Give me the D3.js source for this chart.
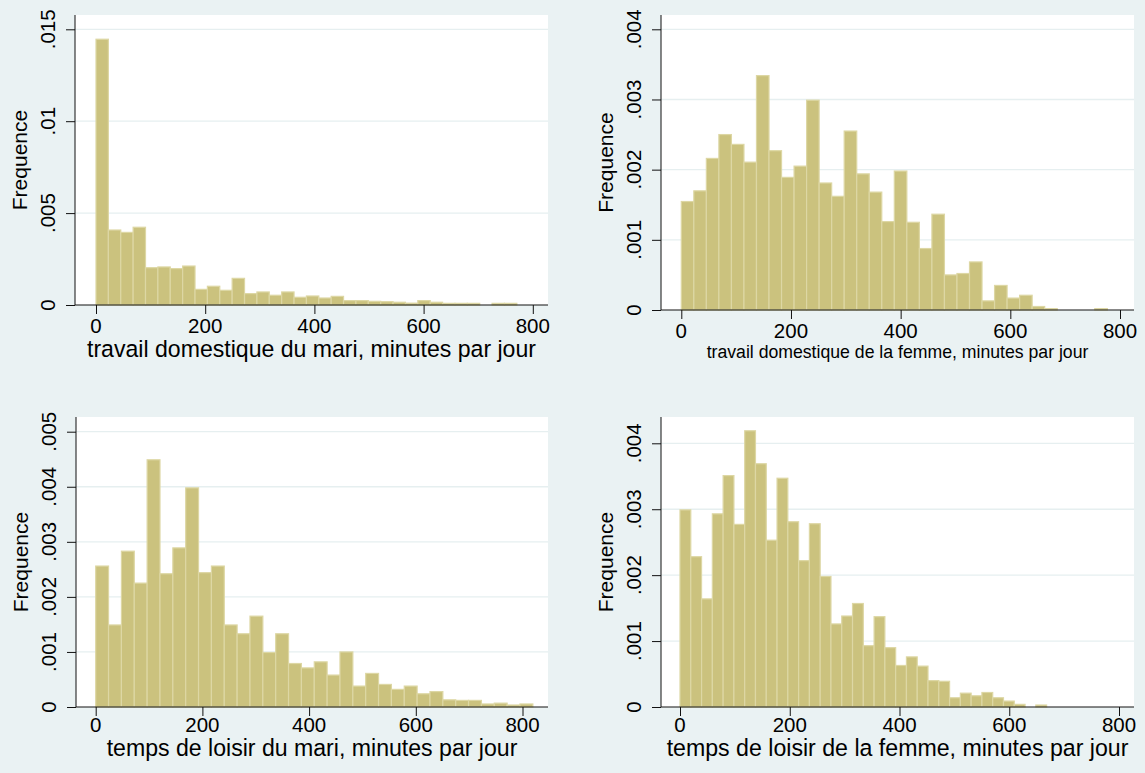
<!DOCTYPE html>
<html>
<head>
<meta charset="utf-8">
<script src="https://cdn.jsdelivr.net/npm/d3@7"></script>
<style>
  body { margin: 0; background: #eaf2f3; }
  svg { display: block; font-family: "Liberation Sans", Arial, sans-serif; }
</style>
</head>
<body>
<svg id="chart" width="1145" height="773"></svg>
<script>
// densities per bin (x 0.001), bins start at 0
let hdMari = [14.46, 4.08, 3.95, 4.23, 2.03, 2.07, 1.98, 2.12, 0.85, 1.02, 0.80, 1.45, 0.62, 0.71, 0.53, 0.71, 0.42, 0.49,
    0.38, 0.47, 0.24, 0.24, 0.20, 0.18, 0.15, 0.10, 0.24, 0.15, 0.09, 0.09, 0.09, 0, 0.09, 0.09];
let hdFemme = [1.546, 1.698, 2.16, 2.50, 2.36, 2.107, 3.34, 2.27, 1.89, 2.05, 2.99, 1.81, 1.62, 2.55, 1.94, 1.68, 1.26,
    1.98, 1.25, 0.876, 1.365, 0.50, 0.52, 0.685, 0.13, 0.35, 0.17, 0.21, 0.05, 0.02, 0, 0, 0, 0.02];
let loisirMari = [2.56, 1.49, 2.83, 2.25, 4.49, 2.42, 2.89, 3.98, 2.44, 2.56, 1.49, 1.33, 1.65, 0.99, 1.33, 0.79, 0.71,
    0.82, 0.58, 1.00, 0.38, 0.61, 0.41, 0.32, 0.38, 0.24, 0.28, 0.13, 0.12, 0.12, 0.055, 0.07, 0.036, 0.055];
let loisirFemme = [2.99, 2.28, 1.64, 2.93, 3.51, 2.77, 4.19, 3.69, 2.53, 3.47, 2.81, 2.22, 2.78, 1.98, 1.26, 1.38, 1.57,
    0.93, 1.37, 0.90, 0.63, 0.76, 0.62, 0.40, 0.39, 0.14, 0.21, 0.17, 0.22, 0.14, 0.09, 0.04, 0, 0.03];

// bin widths in minutes
let binWidths = [22.67, 22.85, 24.1, 19.65];

let xTicks = [0, 200, 400, 600, 800];
let yTicks1 = [0, 0.005, 0.01, 0.015];
let yTicks2 = [0, 0.001, 0.002, 0.003, 0.004];
let yTicks3 = [0, 0.001, 0.002, 0.003, 0.004, 0.005];
let yTicks4 = [0, 0.001, 0.002, 0.003, 0.004];

let xTitles = [
    'travail domestique du mari, minutes par jour',
    'travail domestique de la femme, minutes par jour',
    'temps de loisir du mari, minutes par jour',
    'temps de loisir de la femme, minutes par jour'
];
let yTitle = 'Frequence';

let svg = d3.select('#chart');
svg.append('rect').attr('width', 1145).attr('height', 773).attr('fill', '#eaf2f3');

// layout for each panel
let panels = [
    { data: hdMari, bw: binWidths[0], yTicks: yTicks1, title: xTitles[0],
      left: 75, right: 548, top: 15, x0: 96, x800: 532.8, y0: 305, yMaxPx: 29.3,
      tickBase: 333, titleBase: 357, titleW: 449 },
    { data: hdFemme, bw: binWidths[1], yTicks: yTicks2, title: xTitles[1],
      left: 661, right: 1134, top: 15, x0: 681.3, x800: 1120, y0: 310, yMaxPx: 29.3,
      tickBase: 338, titleBase: 358, titleW: 382 },
    { data: loisirMari, bw: binWidths[2], yTicks: yTicks3, title: xTitles[2],
      left: 76, right: 548, top: 417, x0: 95.7, x800: 522.5, y0: 707, yMaxPx: 431.7,
      tickBase: 732, titleBase: 756, titleW: 411 },
    { data: loisirFemme, bw: binWidths[3], yTicks: yTicks4, title: xTitles[3],
      left: 661, right: 1134, top: 417, x0: 680, x800: 1119, y0: 707, yMaxPx: 443.3,
      tickBase: 732, titleBase: 756, titleW: 462 }
];

let fmt = (d) => d === 0 ? '0' : d3.format('.3~f')(d).replace(/^0/, '');

panels.forEach((p) => {
    let g = svg.append('g');
    let x = d3.scaleLinear().domain([0, 800]).range([p.x0, p.x800]);
    let y = d3.scaleLinear().domain([0, d3.max(p.yTicks)]).range([p.y0, p.yMaxPx]);

    // plot region
    g.append('rect')
        .attr('x', p.left).attr('y', p.top)
        .attr('width', p.right - p.left).attr('height', p.y0 - p.top)
        .attr('fill', '#ffffff');

    // grid
    g.selectAll('.grid').data(p.yTicks.filter((d) => d > 0)).enter()
        .append('line')
        .attr('x1', p.left).attr('x2', p.right)
        .attr('y1', (d) => y(d)).attr('y2', (d) => y(d))
        .attr('stroke', '#e6eff0').attr('stroke-width', 1.3);

    // bars
    g.selectAll('.bar').data(p.data).enter()
        .append('rect')
        .attr('x', (d, i) => x(i * p.bw))
        .attr('width', (d, i) => x((i + 1) * p.bw) - x(i * p.bw))
        .attr('y', (d) => y(d / 1000))
        .attr('height', (d) => p.y0 - y(d / 1000))
        .attr('fill', d => d > 0 ? '#cbc27e' : 'none')
        .attr('stroke', d => d > 0 ? '#ddd7a4' : 'none')
        .attr('stroke-width', 1.2);

    // y axis
    let yAxis = d3.axisLeft(y).tickValues(p.yTicks).tickSize(9).tickFormat('');
    let ya = g.append('g').attr('transform', `translate(${p.left},0)`).call(yAxis);
    ya.select('.domain').attr('d', `M0,${p.top}V${p.y0}`).attr('stroke', '#111');
    ya.selectAll('.tick line').attr('stroke', '#111');
    g.selectAll('.ylab').data(p.yTicks).enter()
        .append('text')
        .attr('transform', (d) => `translate(${p.left - 20},${y(d)}) rotate(-90)`)
        .attr('text-anchor', 'middle')
        .attr('font-size', 20.5)
        .attr('fill', '#000')
        .text(fmt);

    // x axis
    let xAxis = d3.axisBottom(x).tickValues(xTicks).tickSize(9).tickFormat('');
    let xa = g.append('g').attr('transform', `translate(0,${p.y0})`).call(xAxis);
    xa.select('.domain').attr('d', `M${p.left},0H${p.right}`).attr('stroke', '#111');
    xa.selectAll('.tick line').attr('stroke', '#111');
    g.selectAll('.xlab').data(xTicks).enter()
        .append('text')
        .attr('x', (d) => x(d)).attr('y', p.tickBase)
        .attr('text-anchor', 'middle')
        .attr('font-size', 20.5)
        .attr('fill', '#000')
        .text((d) => d);

    // axis titles
    let t = g.append('text')
        .attr('x', (p.left + p.right) / 2).attr('y', p.titleBase)
        .attr('text-anchor', 'middle')
        .attr('font-size', 20)
        .attr('fill', '#000')
        .text(p.title);
    let len = t.node().getComputedTextLength();
    t.attr('font-size', 20 * p.titleW / len);

    g.append('text')
        .attr('transform', `translate(${p.left - 48},${(p.top + p.y0) / 2}) rotate(-90)`)
        .attr('text-anchor', 'middle')
        .attr('font-size', 21)
        .attr('fill', '#000')
        .text(yTitle);
});
</script>
</body>
</html>
